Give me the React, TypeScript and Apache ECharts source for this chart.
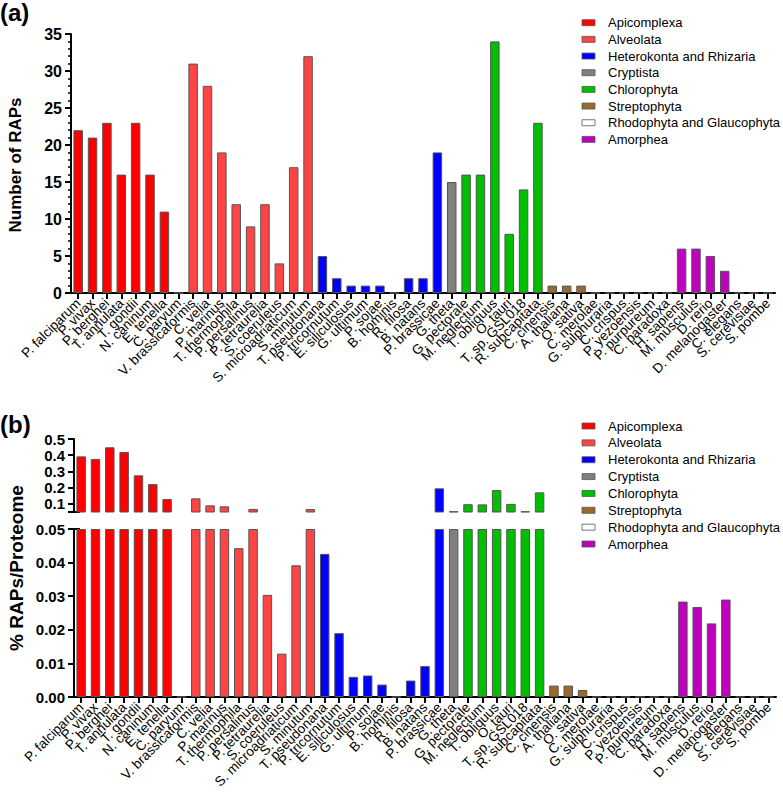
import React, { useEffect, useRef } from 'react';
import * as echarts from 'echarts';

const species = [
  'P. falciparum', 'P. vivax', 'P. berghei', 'T. annulata', 'T. gondii', 'N. caninum', 'E. tenella', 'C. parvum',
  'V. brassicaformis', 'C. velia', 'P. marinus', 'T. thermophila', 'P. persalinus', 'P. tetraurelia', 'S. coeruleus', 'S. microadriaticum', 'S. minutum',
  'T. pseudonana', 'P. tricornutum', 'E. siliculosus', 'G. ultimum', 'P. sojae', 'B. hominis', 'R. filosa', 'B. natans', 'P. brassicae',
  'G. theta',
  'G. pectorale', 'M. neglectum', 'T. obliquus', 'O. tauri', 'T. sp. GSL018', 'R. subcapitata',
  'C. cinensis', 'A. thaliana', 'O. sativa',
  'C. merolae', 'G. sulphuraria', 'C. crispus', 'P. yezoensis', 'P. purpureum', 'C. paradoxa',
  'H. sapiens', 'M. musculus', 'D. rerio', 'D. melanogaster', 'C. elegans', 'S. cerevisiae', 'S. pombe',
];

const groupNames = [
  'Apicomplexa', 'Alveolata', 'Heterokonta and Rhizaria', 'Cryptista',
  'Chlorophyta', 'Streptophyta', 'Rhodophyta and Glaucophyta', 'Amorphea',
];
const groupColors = ['#FF0000', '#FF4444', '#0000FF', '#808080', '#00BF00', '#9A6A2A', '#FFFFFF', '#BF00BF'];
const groupSizes = [8, 9, 9, 1, 6, 3, 6, 7];

// Panel (a): number of RAPs
const rapCounts = [
  22, 21, 23, 16, 23, 16, 11, 0,
  31, 28, 19, 12, 9, 12, 4, 17, 32,
  5, 2, 1, 1, 1, 0, 2, 2, 19,
  15,
  16, 16, 34, 8, 14, 23,
  1, 1, 1,
  0, 0, 0, 0, 0, 0,
  6, 6, 5, 3, 0, 0, 0,
];

// Panel (b): % RAPs / proteome
const rapPercent = [
  0.393, 0.377, 0.449, 0.42, 0.276, 0.222, 0.13, 0,
  0.134, 0.091, 0.085, 0.0443, 0.069, 0.0304, 0.0129, 0.0392, 0.068,
  0.0426, 0.019, 0.006, 0.0064, 0.0037, 0, 0.0049, 0.0092, 0.196,
  0.055,
  0.098, 0.097, 0.185, 0.1, 0.055, 0.171,
  0.0034, 0.0034, 0.0021,
  0, 0, 0, 0, 0, 0,
  0.0284, 0.0268, 0.0219, 0.029, 0, 0, 0,
];

const countAxis = { min: 0, max: 35, interval: 5 };
const upperBreak = { min: 0.05, max: 0.5 };
const upperLabels = [0.1, 0.2, 0.3, 0.4, 0.5];
const upperTicks = [0.05, 0.1, 0.2, 0.3, 0.4, 0.5];
const lowerAxis = { min: 0, max: 0.05, interval: 0.01 };

const FONT = "'Liberation Sans', Arial, Helvetica, sans-serif";

const groupOf: number[] = [];
groupSizes.forEach((n, g) => { for (let k = 0; k < n; k++) groupOf.push(g); });

export default function App() {
  const ref = useRef<HTMLDivElement>(null);

  useEffect(() => {
    if (!ref.current) return;
    const chart = echarts.init(ref.current, null, { renderer: 'svg' });

    const grids = [
      { left: 71, width: 704, top: 34, height: 259 },
      { left: 74, width: 702, top: 439, height: 73 },
      { left: 74, width: 702, top: 529, height: 168 },
    ];

    const xLabel = {
      show: true,
      interval: 0,
      rotate: 45,
      margin: 8,
      fontSize: 13.5,
      color: '#000',
      fontFamily: FONT,
    };
    const axisLine = { show: true, lineStyle: { color: '#000', width: 2 } };

    const xAxes = grids.map((_, i) => ({
      type: 'category',
      gridIndex: i,
      data: species,
      show: i !== 1,
      axisLine,
      axisTick: { show: true, alignWithLabel: true, length: 6, lineStyle: { color: '#000', width: 2 } },
      axisLabel: xLabel,
    }));

    const yLabelBase = { color: '#000', fontWeight: 'bold', fontFamily: FONT, margin: 9 };
    const yTick = { show: true, length: 6, lineStyle: { color: '#000', width: 2 } };

    const yAxes = [
      {
        type: 'value', gridIndex: 0, ...countAxis,
        axisLine, axisTick: yTick,
        minorTick: { show: true, splitNumber: 5, length: 3, lineStyle: { color: '#000', width: 1.5 } },
        splitLine: { show: false },
        axisLabel: { ...yLabelBase, fontSize: 16 },
      },
      {
        type: 'value', gridIndex: 1, ...upperBreak,
        axisLine,
        axisTick: { ...yTick, customValues: upperTicks },
        splitLine: { show: false },
        axisLabel: { ...yLabelBase, fontSize: 15, customValues: upperLabels, formatter: (v: number) => v.toFixed(1) },
      },
      {
        type: 'value', gridIndex: 2, ...lowerAxis,
        axisLine, axisTick: yTick,
        splitLine: { show: false },
        axisLabel: { ...yLabelBase, fontSize: 15, formatter: (v: number) => v.toFixed(2) },
      },
    ];

    const panelValues = [
      rapCounts,
      rapPercent.map((v) => (v > upperBreak.min ? v : '-')),
      rapPercent.map((v) => Math.min(v, lowerAxis.max)),
    ];

    const series: any[] = [];
    panelValues.forEach((vals, gi) => {
      groupNames.forEach((name, g) => {
        series.push({
          type: 'bar',
          name,
          xAxisIndex: gi,
          yAxisIndex: gi,
          stack: 'panel' + gi,
          barWidth: '66%',
          clip: true,
          itemStyle: { color: groupColors[g], borderColor: '#555', borderWidth: 1 },
          data: vals.map((v, i) => (groupOf[i] === g ? v : '-')),
        });
      });
    });

    const upperBottom = grids[1].top + grids[1].height;
    const lowerTop = grids[2].top;
    const axisX = grids[2].left;

    const graphic: any[] = [
      { type: 'text', left: 0, top: 0, style: { text: '(a)', font: `bold 24px ${FONT}`, fill: '#000' } },
      { type: 'text', left: 0, top: 412, style: { text: '(b)', font: `bold 24px ${FONT}`, fill: '#000' } },
      {
        type: 'text', x: 15, y: 165, rotation: Math.PI / 2,
        style: { text: 'Number of RAPs', font: `bold 17px ${FONT}`, fill: '#000', align: 'center', verticalAlign: 'middle' },
      },
      {
        type: 'text', x: 16, y: 568, rotation: Math.PI / 2,
        style: { text: '% RAPs/Proteome', font: `bold 19px ${FONT}`, fill: '#000', align: 'center', verticalAlign: 'middle' },
      },
      // axis-break marks
      { type: 'line', shape: { x1: axisX - 6, y1: upperBottom, x2: axisX + 6, y2: upperBottom }, style: { stroke: '#000', lineWidth: 2 } },
      { type: 'line', shape: { x1: axisX - 6, y1: lowerTop, x2: axisX + 6, y2: lowerTop }, style: { stroke: '#000', lineWidth: 2 } },
    ];

    const legendPanels = [
      { y0: 22.7, step: 16.67 },
      { y0: 426, step: 16.86 },
    ];
    legendPanels.forEach(({ y0, step }) => {
      groupNames.forEach((name, g) => {
        const yc = y0 + g * step;
        graphic.push({
          type: 'rect',
          shape: { x: 582, y: yc - 3, width: 13, height: 6 },
          style: { fill: groupColors[g], stroke: '#555', lineWidth: 0.8 },
        });
        graphic.push({
          type: 'text',
          x: 608, y: yc,
          style: { text: name, font: `13px ${FONT}`, fill: '#000', verticalAlign: 'middle' },
        });
      });
    });

    chart.setOption({
      animation: false,
      backgroundColor: '#fff',
      grid: grids,
      xAxis: xAxes,
      yAxis: yAxes,
      series,
      graphic,
    });

    return () => chart.dispose();
  }, []);

  return (
    <div
      ref={ref}
      style={{ position: 'fixed', left: 0, top: 0, width: 783, height: 792, background: '#fff' }}
    />
  );
}
